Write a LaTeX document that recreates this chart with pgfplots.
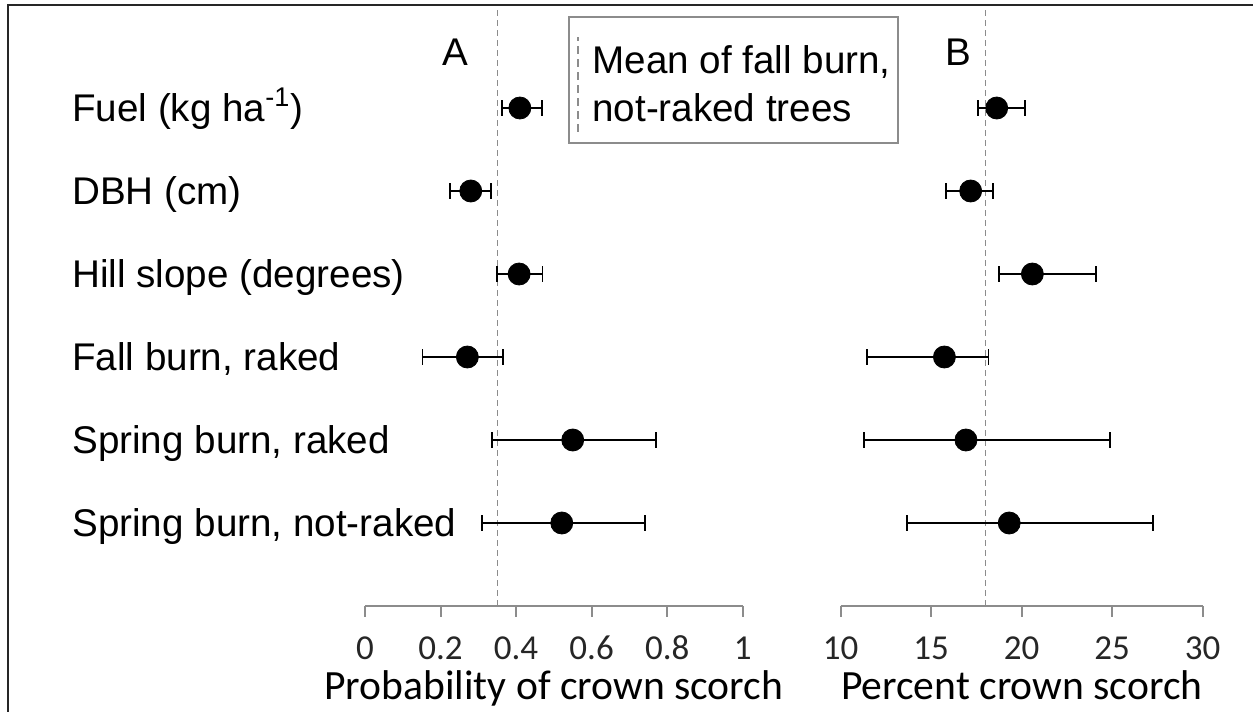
\documentclass[border=0pt]{standalone}
\usepackage{fontspec}
\setmainfont{Liberation Sans}
\newfontfamily\calibri{Carlito}
\usepackage{pgfplots}
\usepackage{pgfplotstable}
\pgfplotsset{compat=1.18}
\definecolor{axgray}{HTML}{8C8C8C}
\definecolor{framecol}{HTML}{262626}

\pgfplotstableread{
y x lo hi
6 0.410 0.362 0.469
5 0.280 0.225 0.334
4 0.408 0.349 0.470
3 0.271 0.152 0.366
2 0.550 0.337 0.770
1 0.521 0.309 0.742
}\tableA

\pgfplotstableread{
y x lo hi
6 18.62 17.60 20.18
5 17.18 15.82 18.40
4 20.59 18.75 24.10
3 15.73 11.45 18.16
2 16.92 11.27 24.88
1 19.31 13.68 27.27
}\tableB

\tikzset{meanline/.style={axgray, dash pattern=on 3pt off 2pt, line width=0.6pt}}

\pgfplotsset{
  panel/.style={
    scale only axis,
    height=298.8pt,
    ymin=0, ymax=7.2,
    enlargelimits=false,
    clip=false,
    axis x line=bottom,
    axis y line=none,
    x axis line style={-, axgray, line width=1pt},
    ytick=\empty,
    tick align=outside,
    major tick length=5.5pt,
    xtick style={axgray, line width=1pt},
    /pgf/number format/assume math mode=true,
    xticklabel style={font=\calibri\fontsize{17.5}{20}\selectfont, text=black!85, anchor=center, inner sep=1pt, yshift=-15.5pt},
    xlabel style={font=\calibri\fontsize{20.8}{24}\selectfont, text=black, inner sep=1pt,
      at={(axis description cs:0.5,0)}, anchor=base, yshift=-46.5pt},
  },
  dot/.style={
    only marks, mark=*, mark size=5.5pt, black,
    error bars/.cd, x dir=both, x explicit,
    error bar style={line width=0.8pt, black},
    error mark options={rotate=90, mark size=3.8pt, line width=0.9pt, black},
  },
}

\newcommand{\catfont}{\fontsize{19.3}{24}\selectfont}

\begin{document}
\begin{tikzpicture}
\useasboundingbox (0,0) rectangle (626.5pt,356pt);
% frame
\draw[framecol, line width=1.4pt] (4pt,0) -- (4pt,353.5pt) -- (626.5pt,353.5pt);

\begin{axis}[panel,
  at={(182.5pt,53pt)}, anchor=south west,
  width=188.85pt,
  xmin=0, xmax=1,
  xtick={0,0.2,0.4,0.6,0.8,1},
  xticklabels={0,0.2,0.4,0.6,0.8,1},
  xlabel={Probability of crown scorch},
]
\addplot[meanline] coordinates {(0.35,0) (0.35,7.2)};
\addplot[dot] table[x=x, y=y,
  x error plus expr=\thisrow{hi}-\thisrow{x},
  x error minus expr=\thisrow{x}-\thisrow{lo}] {\tableA};
\node[anchor=base west, font=\catfont, inner sep=0pt, yshift=-6.9pt] at (axis cs:-0.776,6) {Fuel (kg ha\textsuperscript{-1})};
\node[anchor=base west, font=\catfont, inner sep=0pt, yshift=-6.9pt] at (axis cs:-0.776,5) {DBH (cm)};
\node[anchor=base west, font=\catfont, inner sep=0pt, yshift=-6.9pt] at (axis cs:-0.776,4) {Hill slope (degrees)};
\node[anchor=base west, font=\catfont, inner sep=0pt, yshift=-6.9pt] at (axis cs:-0.776,3) {Fall burn, raked};
\node[anchor=base west, font=\catfont, inner sep=0pt, yshift=-6.9pt] at (axis cs:-0.776,2) {Spring burn, raked};
\node[anchor=base west, font=\catfont, inner sep=0pt, yshift=-6.9pt] at (axis cs:-0.776,1) {Spring burn, not-raked};
\node[font=\catfont] at (axis cs:0.238,6.67) {A};
\end{axis}

\begin{axis}[panel,
  at={(420.35pt,53pt)}, anchor=south west,
  width=181pt,
  xmin=10, xmax=30,
  xtick={10,15,20,25,30},
  xticklabels={10,15,20,25,30},
  xlabel={Percent crown scorch},
]
\addplot[meanline] coordinates {(18,0) (18,7.2)};
\addplot[dot] table[x=x, y=y,
  x error plus expr=\thisrow{hi}-\thisrow{x},
  x error minus expr=\thisrow{x}-\thisrow{lo}] {\tableB};
\node[font=\catfont] at (axis cs:16.48,6.67) {B};
\end{axis}

% legend box
\draw[axgray, line width=1pt, fill=white] (284.5pt,284.5pt) rectangle (449pt,347.5pt);
\draw[axgray, dash pattern=on 4pt off 2.5pt, line width=1.3pt] (289pt,290pt) -- (289pt,337.5pt);
\node[anchor=west, align=left, font=\catfont, inner sep=0pt] at (296pt,314pt) {Mean of fall burn,\\not-raked trees};
\end{tikzpicture}
\end{document}
